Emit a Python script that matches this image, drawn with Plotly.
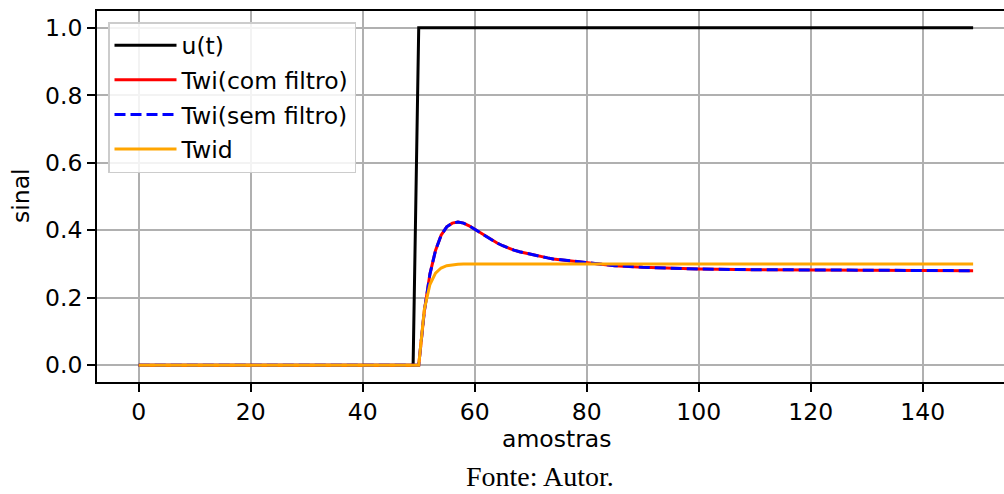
import plotly.graph_objects as go

# ---- data ----
u_x = [0, 49, 50, 149]
u_y = [0.0, 0.0, 1.0, 1.0]

twi_x = [0, 50, 51, 52, 53, 54, 55, 56, 57, 58, 59, 60, 61, 62, 63, 64, 65, 66, 67, 68, 69, 70,
         71, 72, 73, 74, 75, 76, 77, 78, 79, 80, 85, 90, 95, 100, 110, 120, 130, 140, 149]
twi_y = [0.0, 0.0, 0.16, 0.27, 0.34, 0.385, 0.41, 0.421, 0.424, 0.421, 0.413, 0.403, 0.392,
         0.381, 0.371, 0.362, 0.354, 0.347, 0.341, 0.336, 0.332, 0.328,
         0.324, 0.321, 0.318, 0.315, 0.313, 0.311, 0.309, 0.307, 0.305, 0.303,
         0.295, 0.290, 0.287, 0.285, 0.283, 0.282, 0.281, 0.280, 0.280]
twi_sf_y = list(twi_y)

twid_x = [0, 50, 51, 52, 53, 54, 55, 56, 57, 58, 59, 149]
twid_y = [0.0, 0.0, 0.165, 0.239, 0.273, 0.288, 0.295, 0.298, 0.299, 0.300, 0.300, 0.300]

x_ticks = [0, 20, 40, 60, 80, 100, 120, 140]
y_ticks = [0.0, 0.2, 0.4, 0.6, 0.8, 1.0]

FONT = "DejaVu Sans"
FS = 23.5
fig = go.Figure()
LW = 3
fig.add_trace(go.Scatter(x=u_x, y=u_y, mode="lines", name="u(t)",
                         line=dict(color="black", width=LW), legendgroup="a"))
fig.add_trace(go.Scatter(x=twi_x, y=twi_y, mode="lines", name="Twi(com filtro)",
                         line=dict(color="red", width=LW), legendgroup="b"))
fig.add_trace(go.Scatter(x=twi_x, y=twi_sf_y, mode="lines", name="Twi(sem filtro)",
                         line=dict(color="blue", width=LW, dash="11px,5px"), legendgroup="c"))
fig.add_trace(go.Scatter(x=twid_x, y=twid_y, mode="lines", name="Twid",
                         line=dict(color="orange", width=LW), legendgroup="d"))

W, H = 1004, 494
L, R, T, B = 97, 0, 11, 112
pw = W - L - R
ph = H - T - B
xmin = -7.45
xmax = xmin + pw / 5.6

fig.update_layout(
    width=W, height=H,
    margin=dict(l=L, r=R, t=T, b=B, pad=0),
    paper_bgcolor="white", plot_bgcolor="white",
    font=dict(family=FONT, size=FS, color="black"),
    showlegend=True,
    legend=dict(x=(108 - L) / pw, y=(H - B - 22) / ph, xanchor="left", yanchor="top",
                bgcolor="rgba(255,255,255,0.85)", bordercolor="#cccccc", borderwidth=1.5,
                font=dict(family=FONT, size=FS), traceorder="grouped", tracegroupgap=1,
                itemwidth=62),
    xaxis=dict(range=[xmin, xmax], tickvals=x_ticks, ticktext=[str(v) for v in x_ticks],
               showgrid=True, gridcolor="#b0b0b0", gridwidth=1.5, zeroline=False,
               showline=True, linecolor="black", linewidth=1.8, mirror=True,
               ticks="outside", ticklen=8, tickwidth=1.8, tickcolor="black",
               tickfont=dict(family=FONT, size=FS)),
    yaxis=dict(range=[-0.05, 1.05], tickvals=y_ticks, ticktext=["%.1f" % v for v in y_ticks],
               showgrid=True, gridcolor="#b0b0b0", gridwidth=1.5, zeroline=False,
               showline=True, linecolor="black", linewidth=1.8,
               ticks="outside", ticklen=8, tickwidth=1.8, tickcolor="black",
               tickfont=dict(family=FONT, size=FS)),
    annotations=[
        dict(text="amostras", xref="paper", yref="paper", x=(556 - L) / pw, y=(H - B - 439) / ph,
             showarrow=False, font=dict(family=FONT, size=FS), xanchor="center", yanchor="middle"),
        dict(text="sinal", xref="paper", yref="paper", x=(21 - L) / pw, y=(H - B - 196) / ph,
             showarrow=False, textangle=-90, font=dict(family=FONT, size=FS),
             xanchor="center", yanchor="middle"),
        dict(text="Fonte: Autor.", xref="paper", yref="paper", x=(540 - L) / pw, y=(H - B - 477) / ph,
             showarrow=False, font=dict(family="Liberation Serif", size=28), borderpad=0,
             xanchor="center", yanchor="middle"),
    ],
)

fig.write_html("out.html")
